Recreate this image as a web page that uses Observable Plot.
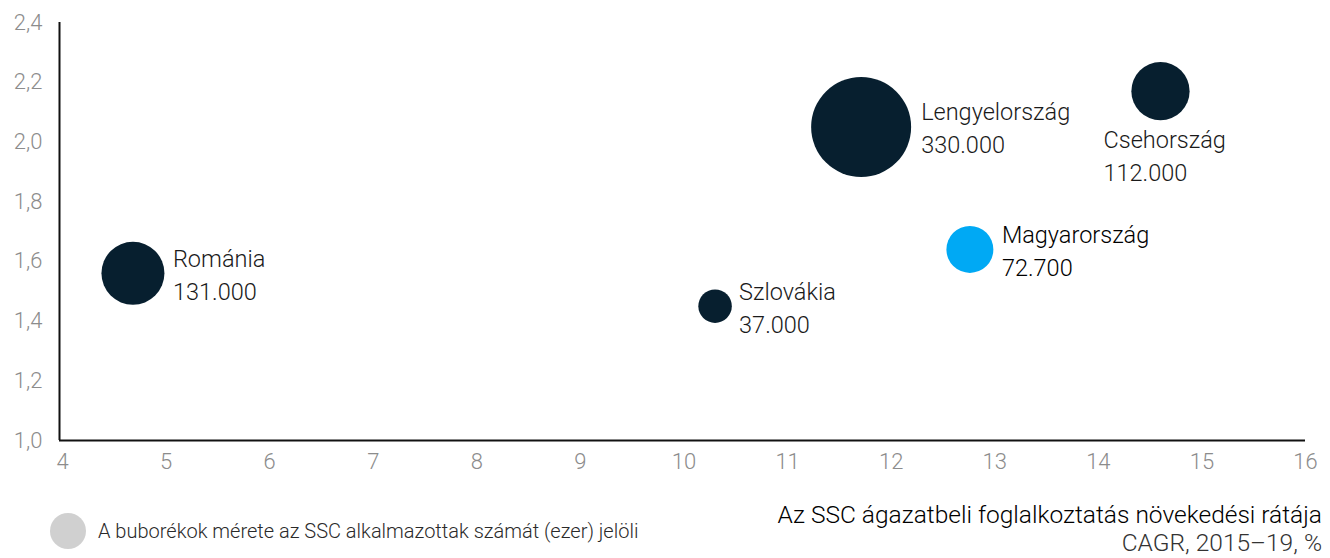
<!DOCTYPE html>
<html>
<head>
<meta charset="utf-8">
<script src="https://cdn.jsdelivr.net/npm/d3@7"></script>
<script src="https://cdn.jsdelivr.net/npm/@observablehq/plot@0.6"></script>
<style>
  html, body { margin: 0; padding: 0; background: #fff; }
  body { width: 1330px; height: 558px; overflow: hidden; font-family: Roboto, "Liberation Sans", sans-serif; font-weight: 300; }
  #footer { position: relative; width: 1330px; height: 73px; }
  #legend-dot { position: absolute; left: 50px; top: 28px; width: 36px; height: 36px; border-radius: 50%; background: #d0d0d0; }
  #legend-text { position: absolute; left: 98px; top: 34px; font-size: 20px; line-height: 24px; color: #2a2a2a; white-space: nowrap; }
  #xtitle { position: absolute; right: 8px; top: 16px; text-align: right; color: #000; white-space: nowrap; }
  #xtitle .l1 { font-size: 24.5px; line-height: 28px; }
  #xtitle .l2 { font-size: 24.5px; line-height: 28px; color: #333; }
  svg text { font-weight: 300; }
</style>
</head>
<body>
<div id="chart"></div>
<div id="footer">
  <div id="legend-dot"></div>
  <div id="legend-text">A buborékok mérete az SSC alkalmazottak számát (ezer) jelöli</div>
  <div id="xtitle"><div class="l1">Az SSC ágazatbeli foglalkoztatás növekedési rátája</div><div class="l2">CAGR, 2015–19, %</div></div>
</div>
<script>
// ---- data ----
const countries = ["Románia", "Szlovákia", "Lengyelország", "Magyarország", "Csehország"];
const growthRate = [4.68, 10.30, 11.71, 12.76, 14.60];      // x: CAGR 2015–19, %
const yValue = [1.56, 1.45, 2.05, 1.64, 2.17];             // y axis value
const employees = [131000, 37000, 330000, 72700, 112000];   // bubble size
const employeeLabels = ["131.000", "37.000", "330.000", "72.700", "112.000"];
const xTicks = [4, 5, 6, 7, 8, 9, 10, 11, 12, 13, 14, 15, 16];
const yTicks = [1.0, 1.2, 1.4, 1.6, 1.8, 2.0, 2.2, 2.4];
const highlight = "Magyarország";

const data = countries.map((c, i) => ({
  name: c, x: growthRate[i], y: yValue[i], emp: employees[i], label: c + "\n" + employeeLabels[i]
}));

const dark = "#071f2f";
const blue = "#00a9f4";

function labelMark(name, dx, dy) {
  return Plot.text(data.filter(d => d.name === name), {
    x: "x", y: "y", text: "label", dx, dy,
    textAnchor: "start", lineAnchor: "middle", lineHeight: 1.4,
    fontSize: 23.5, fill: name === highlight ? "#000" : "#1a1a1a"
  });
}

const chart = Plot.plot({
  width: 1330,
  height: 485,
  marginTop: 22,
  marginBottom: 45,
  marginLeft: 59,
  marginRight: 25,
  style: { fontFamily: "Roboto, 'Liberation Sans', sans-serif", background: "white", overflow: "visible" },
  x: { domain: [4, 16], insetLeft: 3 },
  y: { domain: [1, 2.4] },
  r: { domain: [0, 330000], range: [0, 50] },
  marks: [
    Plot.axisX({ ticks: xTicks, tickSize: 0, tickPadding: 13, fontSize: 22, color: "#8c8c8c", label: null, tickFormat: d => String(d) }),
    Plot.axisY({ ticks: yTicks, tickSize: 0, tickPadding: 17, fontSize: 22, color: "#8c8c8c", label: null,
      tickFormat: d => d.toFixed(1).replace(".", ",") }),
    Plot.ruleY([1], { stroke: "#111", strokeWidth: 2 }),
    Plot.ruleX([4], { stroke: "#111", strokeWidth: 2, dx: -3 }),
    Plot.dot(data, { x: "x", y: "y", r: "emp", fill: d => d.name === highlight ? blue : dark, stroke: "none" }),
    labelMark("Románia", 40, 0),
    labelMark("Szlovákia", 24, 0),
    labelMark("Lengyelország", 60, -1),
    labelMark("Magyarország", 32, 0),
    labelMark("Csehország", -57, 63)
  ]
});
document.getElementById("chart").appendChild(chart);
</script>
</body>
</html>
